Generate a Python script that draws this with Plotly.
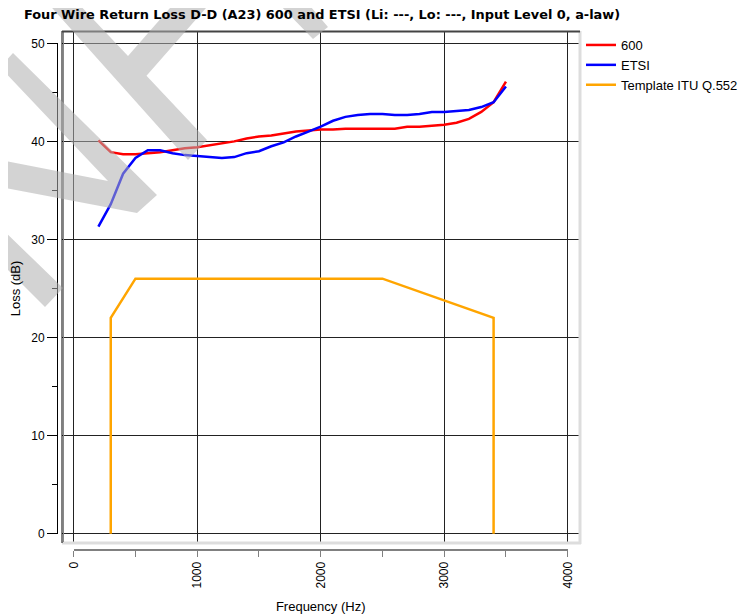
import plotly.graph_objects as go

# ---------------- data ----------------
freq_600 = [200, 300, 400, 500, 600, 700, 800, 900, 1000, 1100, 1200, 1300, 1400, 1500,
            1600, 1700, 1800, 1900, 2000, 2100, 2200, 2300, 2400, 2500, 2600, 2700, 2800,
            2900, 3000, 3100, 3200, 3300, 3400, 3500]
loss_600 = [40.1, 38.9, 38.7, 38.7, 38.8, 38.9, 39.1, 39.3, 39.4, 39.6, 39.8, 40.0, 40.3, 40.5,
            40.6, 40.8, 41.0, 41.1, 41.2, 41.2, 41.3, 41.3, 41.3, 41.3, 41.3, 41.5, 41.5,
            41.6, 41.7, 41.9, 42.3, 43.0, 44.0, 46.1]

freq_etsi = freq_600
loss_etsi = [31.3, 33.6, 36.7, 38.3, 39.1, 39.1, 38.8, 38.6, 38.5, 38.4, 38.3, 38.4, 38.8, 39.0,
             39.5, 39.9, 40.5, 41.0, 41.5, 42.1, 42.5, 42.7, 42.8, 42.8, 42.7, 42.7, 42.8,
             43.0, 43.0, 43.1, 43.2, 43.5, 44.0, 45.6]

freq_tpl = [300, 300, 500, 2500, 3400, 3400]
loss_tpl = [0, 22, 26, 26, 22, 0]

x_ticks = [0, 500, 1000, 1500, 2000, 2500, 3000, 3500, 4000]
x_tick_text = ["0", "", "1000", "", "2000", "", "3000", "", "4000"]
y_ticks = [0, 10, 20, 30, 40, 50]

title_text = "Four Wire Return Loss D-D (A23) 600 and ETSI (Li: ---, Lo: ---, Input Level 0, a-law)"

# ---------------- geometry (page pixels; the page body has an 8px margin) ----------------
OFF = 8
PAGE_W, PAGE_H = 746, 616
W, H = PAGE_W - OFF, PAGE_H - OFF
PL, PR, PT, PB = 57, 580, 31, 550          # paper area bounds (page px)
BOX_L, BOX_R, BOX_T, BOX_B = 62, 580, 31, 543
AX_X0, AX_X1 = 73.7, 567.7                  # page px of 0 Hz / 4000 Hz
AX_Y0, AX_Y1 = 533.7, 43.3                  # page px of 0 dB / 50 dB
PW, PH = PR - PL, PB - PT


def px(xp):
    return (xp - PL) / PW


def py(yp):
    return (PB - yp) / PH


xs = 4000 / (AX_X1 - AX_X0)
ys = 50 / (AX_Y0 - AX_Y1)
x_range = [(BOX_L - AX_X0) * xs, (BOX_R - AX_X0) * xs]
y_range = [(AX_Y0 - BOX_B) * ys, (AX_Y0 - BOX_T) * ys]

FONT = "Liberation Sans, Arial, sans-serif"

fig = go.Figure()
fig.add_trace(go.Scatter(x=freq_600, y=loss_600, mode="lines", name="600",
                         line=dict(color="#ff0000", width=2.5)))
fig.add_trace(go.Scatter(x=freq_etsi, y=loss_etsi, mode="lines", name="ETSI",
                         line=dict(color="#0000ff", width=2.5)))
fig.add_trace(go.Scatter(x=freq_tpl, y=loss_tpl, mode="lines", name="Template ITU Q.552",
                         line=dict(color="#ffa500", width=2.5)))
fig.add_trace(go.Scatter(x=[None], y=[None], xaxis="x2", yaxis="y2", showlegend=False,
                         hoverinfo="skip", mode="lines"))

fig.update_layout(
    width=W, height=H, autosize=False,
    margin=dict(l=PL - OFF, r=PAGE_W - PR, t=PT - OFF, b=PAGE_H - PB, pad=0, autoexpand=False),
    paper_bgcolor="white", plot_bgcolor="rgba(0,0,0,0)",
    font=dict(family=FONT, size=12, color="black"),
    title=dict(text=title_text, x=(322 - OFF) / W, xref="container", xanchor="center",
               y=1 - (14 - OFF) / H, yref="container", yanchor="middle",
               font=dict(family="DejaVu Sans, sans-serif", size=12.9, color="black", weight="bold")),
    showlegend=True,
    legend=dict(x=px(581), y=py(30), xref="paper", yref="paper", xanchor="left", yanchor="top",
                font=dict(family=FONT, size=13, color="black"), bgcolor="rgba(0,0,0,0)",
                borderwidth=0, tracegroupgap=0),
    xaxis=dict(domain=[px(BOX_L), px(BOX_R)], range=x_range, tick0=0, dtick=1000,
               showgrid=True, gridcolor="#222222", gridwidth=1, zeroline=False,
               showticklabels=False, ticks="", showline=False, anchor="y", automargin=False),
    yaxis=dict(domain=[py(BOX_B), py(BOX_T)], range=y_range, tick0=0, dtick=10,
               showgrid=True, gridcolor="#222222", gridwidth=1, zeroline=False,
               showticklabels=False, ticks="", showline=False, anchor="x", automargin=False),
    xaxis2=dict(domain=[px(AX_X0), px(AX_X1)], range=[0, 4000], anchor="free", position=0,
                tickmode="array", tickvals=x_ticks, ticktext=x_tick_text, tickangle=-90,
                ticks="outside", ticklen=6, tickcolor="#808080", tickwidth=1,
                showline=True, linecolor="#808080", linewidth=2,
                showgrid=False, zeroline=False, automargin=False,
                tickfont=dict(family=FONT, size=12, color="black"),
                title=dict(text="Frequency (Hz)", font=dict(family=FONT, size=13), standoff=13)),
    yaxis2=dict(domain=[py(AX_Y0), py(AX_Y1)], range=[0, 50], anchor="free", position=0,
                tickmode="array", tickvals=y_ticks,
                ticks="outside", ticklen=10, tickcolor="black", tickwidth=1,
                minor=dict(dtick=5, tick0=0, ticks="outside", ticklen=5, tickcolor="black",
                           showgrid=False),
                showline=True, linecolor="black", linewidth=1,
                showgrid=False, zeroline=False, automargin=False,
                tickfont=dict(family=FONT, size=12, color="black"),
                title=dict(text="Loss (dB)", font=dict(family=FONT, size=13), standoff=9)),
)


def line_shape(x0, y0, x1, y1, color, width):
    fig.add_shape(type="line", xref="paper", yref="paper",
                  x0=px(x0), y0=py(y0), x1=px(x1), y1=py(y1),
                  line=dict(color=color, width=width), layer="above")


line_shape(BOX_R, BOX_T, BOX_R, BOX_B + 1, "#dddddd", 3)
line_shape(BOX_L, BOX_B, BOX_R + 1, BOX_B, "#dddddd", 3)
line_shape(BOX_L, BOX_T, BOX_L, BOX_B, "#000000", 1)
line_shape(BOX_L + 1.5, BOX_T + 1, BOX_L + 1.5, BOX_B - 1, "#888888", 1)
line_shape(BOX_L, BOX_T + 0.5, BOX_R, BOX_T + 0.5, "#444444", 2)

watermark = [
    [(13, 53), (157, 195), (137, 213), (0, 187), (-5, 187), (-5, 160), (0, 160), (108, 181), (0, 67)],
    [(45, -5), (45, 0), (188, 160), (207, 140), (146.5, 75.8), (213, 0), (217, -5), (172, -5),
     (177, 0), (128, 56), (75, 0), (72, -5)],
    [(270, -5), (275, 0), (313, 39), (328, 27), (305, 0), (301, -5)],
    [(-5, 222), (0, 227), (63, 288), (45, 307), (0, 262), (-5, 257)],
]
for poly in watermark:
    path = "M " + " L ".join(f"{px(a):.5f},{py(b):.5f}" for a, b in poly) + " Z"
    fig.add_shape(type="path", xref="paper", yref="paper", path=path,
                  fillcolor="rgba(175,175,175,0.55)", line=dict(width=0), layer="above")

fig.write_html("out.html")
